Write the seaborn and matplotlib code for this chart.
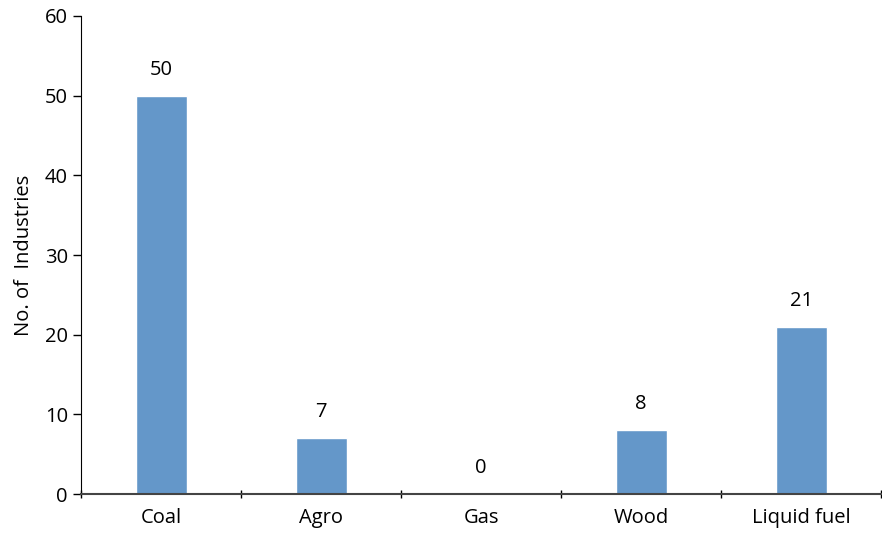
import numpy as np
import pandas as pd
import matplotlib
matplotlib.use('Agg')
import matplotlib.pyplot as plt
import seaborn as sns

# Data
fuels = ['Coal', 'Agro', 'Gas', 'Wood', 'Liquid fuel']
industries = [50, 7, 0, 8, 21]

sns.set_style('white')
plt.rcParams['font.family'] = ['Open Sans', 'DejaVu Sans']

df = pd.DataFrame({'fuel': fuels, 'count': industries})

fig = plt.figure(figsize=(8.82, 5.33), dpi=100)
ax = fig.add_axes([0.092, 0.073, 0.907, 0.897])
sns.barplot(data=df, x='fuel', y='count', color='#6497C9', saturation=1,
            width=0.32, ax=ax)

# Value labels above bars
for i, v in enumerate(industries):
    ax.text(i, v + 2.0, str(v), ha='center', va='bottom', fontsize=14.5, color='black')

ax.set_xlim(-0.5, len(fuels) - 0.5)
ax.set_ylim(0, 60)
ax.set_yticks(range(0, 61, 10))
ax.set_xticks(np.arange(-0.5, len(fuels), 1.0), minor=True)
ax.tick_params(axis='x', which='major', length=0, labelsize=14.5, pad=10,
               labelcolor='black')
ax.tick_params(axis='x', which='minor', length=6, direction='inout', width=1,
               bottom=True, color='black')
ax.tick_params(axis='y', length=6, direction='out', width=1, labelsize=14.5,
               left=True, labelcolor='black', color='black')
ax.set_xlabel('')
ax.set_ylabel('No. of  Industries', fontsize=14.5, labelpad=8, color='black')

sns.despine(ax=ax)
ax.spines['left'].set_color('black')
ax.spines['bottom'].set_color('#444444')
ax.spines['bottom'].set_linewidth(1.5)

fig.savefig('out.png', dpi=100)
